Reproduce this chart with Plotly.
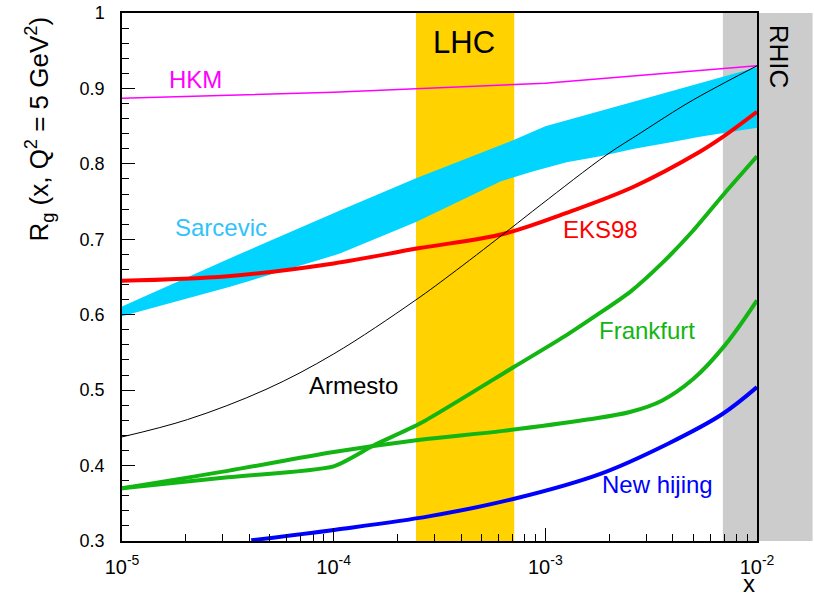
import math
import plotly.graph_objects as go

# ---------------- data ----------------
hkm_x = [1e-5, 1e-4, 1e-3, 1e-2]
hkm_y = [0.887, 0.895, 0.907, 0.930]

sarc_up_x = [1e-5, 3.24e-5, 1.07e-4, 2.45e-4, 7.13e-4, 1e-3, 2.82e-3, 1e-2]
sarc_up_y = [0.611, 0.675, 0.738, 0.781, 0.832, 0.850, 0.885, 0.928]
sarc_lo_x = [1e-5, 3.24e-5, 1.07e-4, 2.45e-4, 6.17e-4, 8.71e-4, 1.26e-3, 1.82e-3, 2.63e-3, 3.80e-3, 5.37e-3, 1e-2]
sarc_lo_y = [0.598, 0.637, 0.681, 0.723, 0.777, 0.790, 0.802, 0.810, 0.820, 0.828, 0.836, 0.848]

eks_x = [1e-5, 3.16e-5, 1e-4, 2.51e-4, 6.31e-4, 1.26e-3, 2.63e-3, 5.37e-3, 6.76e-3, 1e-2]
eks_y = [0.645, 0.651, 0.668, 0.688, 0.707, 0.735, 0.770, 0.816, 0.834, 0.869]

arm_x = [1e-5, 2.04e-5, 4.79e-5, 1e-4, 2.40e-4, 3.80e-4, 6.76e-4, 9.55e-4, 1.95e-3, 2.82e-3, 3.98e-3, 5.01e-3, 7.08e-3, 1e-2]
arm_y = [0.438, 0.461, 0.501, 0.548, 0.618, 0.659, 0.713, 0.746, 0.812, 0.841, 0.868, 0.885, 0.908, 0.930]

frA_x = [1e-5, 3.16e-5, 1e-4, 1.55e-4, 2.57e-4, 7.13e-4, 1.26e-3, 1.76e-3, 2.51e-3, 3.55e-3, 5.01e-3, 7.08e-3, 1e-2]
frA_y = [0.370, 0.3845, 0.399, 0.427, 0.456, 0.531, 0.573, 0.600, 0.630, 0.668, 0.712, 0.762, 0.810]

frB_x = [1e-5, 3.16e-5, 1e-4, 2.51e-4, 6.31e-4, 1.58e-3, 2.51e-3, 3.55e-3, 5.01e-3, 7.08e-3, 1e-2]
frB_y = [0.370, 0.393, 0.418, 0.434, 0.446, 0.461, 0.471, 0.486, 0.515, 0.560, 0.619]

hij_x = [4.08e-5, 1.02e-4, 2.85e-4, 7.13e-4, 1.82e-3, 3.80e-3, 6.84e-3, 1e-2]
hij_y = [0.301, 0.315, 0.333, 0.356, 0.389, 0.429, 0.468, 0.504]

lhc_range = [2.45e-4, 7.13e-4]
rhic_start = 6.9e-3

x_tickvals = [1e-5, 1e-4, 1e-3, 1e-2]
x_ticktext = ["10<sup>-5</sup>", "10<sup>-4</sup>", "10<sup>-3</sup>", "10<sup>-2</sup>"]
y_tickvals = [0.3, 0.4, 0.5, 0.6, 0.7, 0.8, 0.9, 1.0]
y_ticktext = ["0.3", "0.4", "0.5", "0.6", "0.7", "0.8", "0.9", "1"]

# ---------------- style ----------------
FONT = "Liberation Sans, Arial, Helvetica, sans-serif"
CYAN = "#00D4FF"
GOLD = "#FFD200"
GRAY = "#CCCCCC"
GREEN = "#12B512"
RED = "#FF0000"
BLUE = "#0000FF"
MAGENTA = "#FF00FF"

fig = go.Figure()

# Sarcevic band
fig.add_trace(go.Scatter(
    x=sarc_up_x + sarc_lo_x[::-1], y=sarc_up_y + sarc_lo_y[::-1],
    fill="toself", fillcolor=CYAN, mode="lines", line=dict(width=0, color=CYAN),
    hoverinfo="skip", showlegend=False))

fig.add_trace(go.Scatter(x=hkm_x, y=hkm_y, mode="lines",
                         line=dict(color=MAGENTA, width=1.5), showlegend=False))
fig.add_trace(go.Scatter(x=eks_x, y=eks_y, mode="lines", line_shape="spline",
                         line=dict(color=RED, width=4), showlegend=False))
fig.add_trace(go.Scatter(x=frB_x, y=frB_y, mode="lines", line_shape="spline",
                         line=dict(color=GREEN, width=4), showlegend=False))
fig.add_trace(go.Scatter(x=frA_x, y=frA_y, mode="lines", line_shape="spline",
                         line=dict(color=GREEN, width=4, smoothing=0.6), showlegend=False))
fig.add_trace(go.Scatter(x=hij_x, y=hij_y, mode="lines", line_shape="spline",
                         line=dict(color=BLUE, width=4), showlegend=False))
fig.add_trace(go.Scatter(x=arm_x, y=arm_y, mode="lines", line_shape="spline",
                         line=dict(color="black", width=1), showlegend=False))

# bands
x_lo_log, x_hi_log = -5, -2
def paper_x(v):
    return (math.log10(v) - x_lo_log) / (x_hi_log - x_lo_log)

fig.add_shape(type="rect", xref="x", yref="paper",
              x0=lhc_range[0], x1=lhc_range[1], y0=0, y1=1,
              fillcolor=GOLD, line_width=0, layer="below")
fig.add_shape(type="rect", xref="paper", yref="paper",
              x0=paper_x(rhic_start), x1=1.0875, y0=0, y1=1,
              fillcolor=GRAY, line_width=0, layer="below")

labels = [
    ("HKM", -4.652, 0.912, MAGENTA),
    ("Sarcevic", -4.534, 0.716, "#2EC3FA"),
    ("EKS98", -2.740, 0.7124, RED),
    ("Armesto", -3.904, 0.5066, "black"),
    ("Frankfurt", -2.519, 0.5797, GREEN),
    ("New hijing", -2.470, 0.3752, BLUE),
]
for txt, lx, yy, col in labels:
    fig.add_annotation(x=lx, y=yy, xref="x", yref="y", text=txt, showarrow=False,
                       font=dict(family=FONT, size=24, color=col),
                       xanchor="center", yanchor="middle")

fig.add_annotation(x=-3.384, y=0.9606, xref="x", yref="y", text="LHC", showarrow=False,
                   font=dict(family=FONT, size=31, color="black"),
                   xanchor="center", yanchor="middle")
fig.add_annotation(x=1.034, y=0.918, xref="paper", yref="paper", text="RHIC",
                   showarrow=False, textangle=90,
                   font=dict(family=FONT, size=26, color="black"),
                   xanchor="center", yanchor="middle")

# axis titles
fig.add_annotation(x=-0.13, y=0.78, xref="paper", yref="paper",
                   text="R<sub>g</sub> (x, Q<sup>2</sup> = 5 GeV<sup>2</sup>)",
                   showarrow=False, textangle=-90,
                   font=dict(family=FONT, size=26, color="black"),
                   xanchor="center", yanchor="middle")
fig.add_annotation(x=1.0, y=-0.109, xref="paper", yref="paper", text="x",
                   showarrow=False, font=dict(family=FONT, size=24, color="black"),
                   xanchor="right", yanchor="bottom")

minor_x = [m * 10 ** e for e in (-5, -4, -3) for m in range(2, 10)]

fig.update_xaxes(type="log", range=[x_lo_log, x_hi_log],
                 tickvals=x_tickvals,
                 ticktext=["<span style='font-size:20px'>%s</span>" % t for t in x_ticktext],
                 ticks="inside", ticklen=13, tickwidth=1.3, tickcolor="black",
                 minor=dict(tickvals=minor_x, ticks="inside", ticklen=7,
                            tickwidth=1.2, tickcolor="black", showgrid=False),
                 showline=True, linecolor="black", linewidth=1.5, mirror=True,
                 showgrid=False, zeroline=False, automargin=False,
                 tickfont=dict(family=FONT, size=20, color="black"),
                 ticklabelstandoff=7)
fig.update_yaxes(range=[0.3, 1.0], tickvals=y_tickvals, ticktext=y_ticktext,
                 ticks="inside", ticklen=13, tickwidth=1.3, tickcolor="black",
                 minor=dict(dtick=0.02, ticks="inside", ticklen=7,
                            tickwidth=1.2, tickcolor="black", showgrid=False),
                 showline=True, linecolor="black", linewidth=1.5, mirror=True,
                 showgrid=False, zeroline=False, automargin=False,
                 tickfont=dict(family=FONT, size=18, color="black"),
                 ticklabelstandoff=12)

fig.update_layout(width=814, height=597,
                  margin=dict(l=122, r=57, t=13, b=56, autoexpand=False),
                  paper_bgcolor="white", plot_bgcolor="white",
                  showlegend=False)

fig.write_html("out.html")
